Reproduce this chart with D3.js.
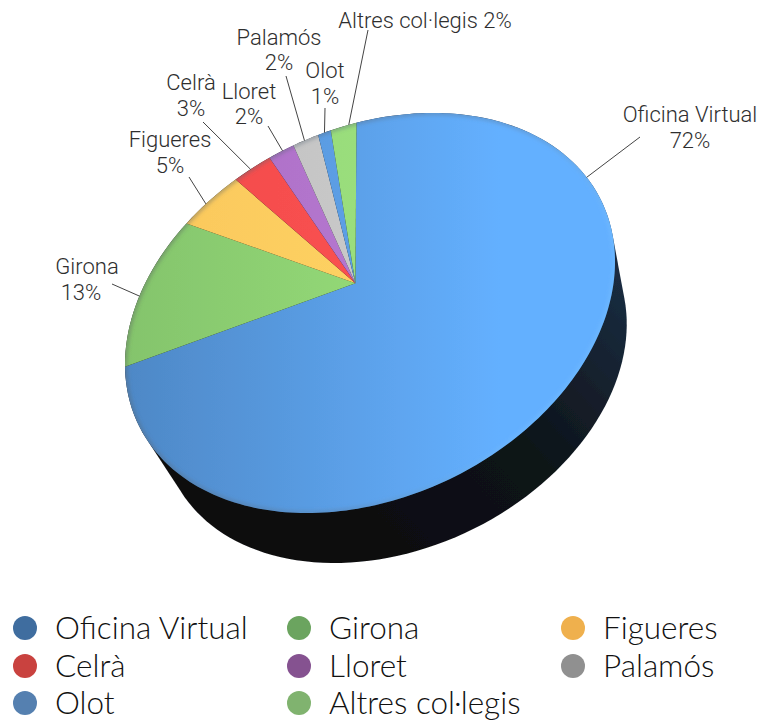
<!DOCTYPE html>
<html>
<meta charset="utf-8">
<style>
body { margin: 0; background: #fff; }
.label { font-family: 'Roboto'; font-weight: 300; font-size: 22px; fill: #2e2e2e; text-anchor: middle; }
.legend text { font-family: 'Lato'; font-weight: 300; font-size: 31.5px; fill: #111; }
.leader { stroke: #444; stroke-width: 1; fill: none; }
</style>
<body>
<script src="https://cdn.jsdelivr.net/npm/d3@7"></script>
<script>
var categories = ["Oficina Virtual", "Girona", "Figueres", "Celrà", "Lloret", "Palamós", "Olot", "Altres col·legis"];
var shares = [72, 13, 5, 3, 2, 2, 1, 2];
var faceLeft = ["#4e88c6", "#84c46c", "#fac65a", "#f04a4a", "#a86cc0", "#bcbcbc", "#5090d4", "#90d474"];
var faceRight = ["#64b0ff", "#9ce47c", "#ffd868", "#ff5454", "#bc7cd8", "#d0d0d0", "#64a8f0", "#a0e480"];
var legendColors = ["#3f6d9f", "#6ba45f", "#efb04d", "#c9423f", "#855290", "#909090", "#5580b0", "#80b36f"];

// label layout, one per category: text centre, baselines, outer end of the leader
// and where along the slice the leader touches the rim (0..1)
var labelLayout = [
  {x: 690, y: [122, 148], end: [640, 137], at: 0.28},
  {x: 87, dx: -6, y: [274, 300], end: [112, 284], at: 0.47},
  {x: 170, y: [147, 173], end: [189, 177], at: 0.42},
  {x: 191, y: [90, 116], end: [203, 122], at: 0.45},
  {x: 249, y: [99, 124], end: [268, 126], at: 0.55},
  {x: 279, y: [45, 70], end: [286, 76], at: 0.45},
  {x: 325, y: [78, 104], end: [325, 108], at: 0.5},
  {x: 425, y: [28], end: [368, 30], at: 0.7}
];

var w = 761, h = 725;

// tilted ellipse of the pie top
var cx = 370, cy = 313, ax = 245, bx = -51.4, by = 193.3;
// the centre of the disc, seen in perspective, is not the centre of the ellipse
var beta = 0.18, tiltDir = -109.3 * Math.PI / 180;
var depthX = 24, depthY = 60, depthScale = 0.95;

// pie angle -> point on the ellipse, r in 0..1
function project(angle, r) {
  var u = r * Math.sin(angle), v = -r * Math.cos(angle);
  var c = Math.cos(tiltDir), s = Math.sin(tiltDir);
  var par = u * c + v * s, perp = -u * s + v * c;
  var k = 1 + beta * par;
  var par2 = (par + beta) / k, perp2 = perp * Math.sqrt(1 - beta * beta) / k;
  var p = par2 * c - perp2 * s, q = par2 * s + perp2 * c;
  return [cx + ax * p, cy + bx * p + by * q];
}

var svg = d3.select("body").append("svg").attr("width", w).attr("height", h);
var defs = svg.append("defs");

defs.append("filter").attr("id", "soft").append("feGaussianBlur").attr("stdDeviation", 0.6);
defs.append("filter").attr("id", "rim").append("feGaussianBlur").attr("stdDeviation", 2);

categories.forEach(function(d, i) {
  var g = defs.append("linearGradient").attr("id", "face" + i)
    .attr("gradientUnits", "userSpaceOnUse")
    .attr("x1", 125).attr("y1", 0).attr("x2", 500).attr("y2", 0);
  g.append("stop").attr("offset", 0).attr("stop-color", faceLeft[i]);
  g.append("stop").attr("offset", 1).attr("stop-color", faceRight[i]);
});

var sideGrad = defs.append("linearGradient").attr("id", "side")
  .attr("gradientUnits", "userSpaceOnUse")
  .attr("x1", 330).attr("y1", 560).attr("x2", 630).attr("y2", 290);
sideGrad.append("stop").attr("offset", 0).attr("stop-color", "#0b0c0e");
sideGrad.append("stop").attr("offset", 0.55).attr("stop-color", "#0e1318");
sideGrad.append("stop").attr("offset", 1).attr("stop-color", "#1a2c40");

var rimGrad = defs.append("linearGradient").attr("id", "rimColor")
  .attr("gradientUnits", "userSpaceOnUse")
  .attr("x1", 125).attr("y1", 200).attr("x2", 620).attr("y2", 420);
rimGrad.append("stop").attr("offset", 0).attr("stop-color", "#555");
rimGrad.append("stop").attr("offset", 0.6).attr("stop-color", "#5a7c9e");
rimGrad.append("stop").attr("offset", 0.85).attr("stop-color", "#78c4ff");

var pie = d3.pie().value(function(d) { return d; }).sort(null);
var slices = pie(shares);
var line = d3.line();

var rimPoints = d3.range(0, 361, 2).map(function(a) { return project(a * Math.PI / 180, 1); });
defs.append("clipPath").attr("id", "faceClip").append("path").attr("d", line(rimPoints) + "Z");

var chart = svg.append("g").attr("filter", "url(#soft)");

// the dark side: hull of the top ellipse and a slightly smaller one moved down
var shifted = rimPoints.map(function(p) {
  return [cx + (p[0] - cx) * depthScale + depthX, cy + (p[1] - cy) * depthScale + depthY];
});
chart.append("path")
  .attr("d", line(d3.polygonHull(rimPoints.concat(shifted))) + "Z")
  .attr("fill", "url(#side)");

function slicePath(d) {
  var n = Math.max(2, Math.ceil((d.endAngle - d.startAngle) / 0.02));
  var pts = [project(0, 0)];
  d3.range(n + 1).forEach(function(k) {
    pts.push(project(d.startAngle + (d.endAngle - d.startAngle) * k / n, 1));
  });
  return line(pts) + "Z";
}

chart.selectAll(".slice")
  .data(slices)
  .enter()
  .append("path")
  .attr("class", "slice")
  .attr("d", slicePath)
  .attr("fill", function(d, i) { return "url(#face" + i + ")"; });

// soft rim around the top
chart.append("g").attr("clip-path", "url(#faceClip)")
  .append("path")
  .attr("d", line(rimPoints) + "Z")
  .attr("fill", "none")
  .attr("stroke", "url(#rimColor)")
  .attr("stroke-opacity", 0.6)
  .attr("stroke-width", 3)
  .attr("filter", "url(#rim)");

// leaders
function leaderEnd(d, i) {
  return project(d.startAngle + (d.endAngle - d.startAngle) * labelLayout[i].at, 1);
}
svg.selectAll(".leader")
  .data(slices)
  .enter()
  .append("line")
  .attr("class", "leader")
  .attr("x1", function(d, i) { return labelLayout[i].end[0]; })
  .attr("y1", function(d, i) { return labelLayout[i].end[1]; })
  .attr("x2", function(d, i) { return leaderEnd(d, i)[0]; })
  .attr("y2", function(d, i) { return leaderEnd(d, i)[1]; });

// labels
categories.forEach(function(name, i) {
  var l = labelLayout[i];
  var t = name + " " + shares[i] + "%";
  if (l.y.length > 1) {
    svg.append("text").attr("class", "label").attr("x", l.x).attr("y", l.y[0]).text(name);
    svg.append("text").attr("class", "label").attr("x", l.x + (l.dx || 0)).attr("y", l.y[1]).text(shares[i] + "%");
  } else {
    svg.append("text").attr("class", "label").attr("x", l.x).attr("y", l.y[0]).text(t);
  }
});

// legend, three columns
var colX = [25, 299, 573], rowY = [628, 666, 703];
var legend = svg.selectAll(".legend")
  .data(categories)
  .enter()
  .append("g")
  .attr("class", "legend")
  .attr("transform", function(d, i) {
    return "translate(" + colX[i % 3] + "," + rowY[Math.floor(i / 3)] + ")";
  });
legend.append("circle").attr("r", 12).attr("fill", function(d, i) { return legendColors[i]; });
legend.append("text").attr("x", 30).attr("y", 11).text(function(d) { return d; });
</script>
</body>
</html>
